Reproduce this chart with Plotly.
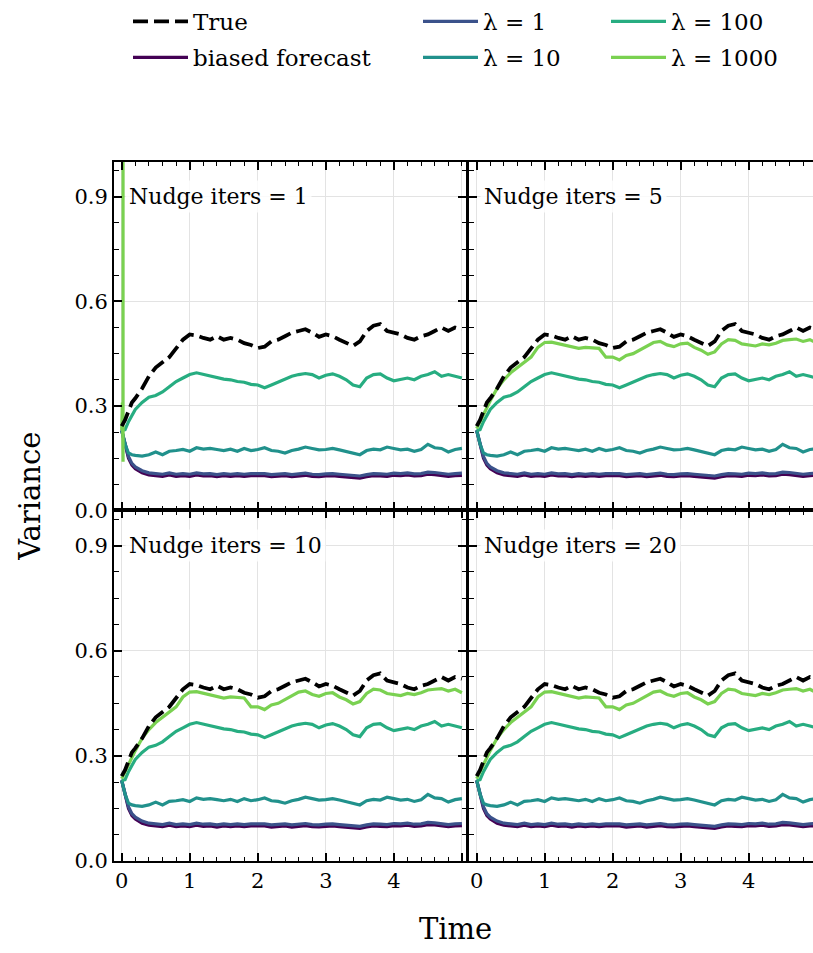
import plotly.graph_objects as go

# ---------------- data ----------------
time = [0, 0.05, 0.1, 0.15, 0.2, 0.3, 0.4, 0.5, 0.6, 0.7, 0.8, 0.9, 1.0,
        1.1, 1.2, 1.3, 1.4, 1.5, 1.6, 1.7, 1.8, 1.9, 2.0,
        2.1, 2.2, 2.3, 2.4, 2.5, 2.6, 2.7, 2.8, 2.9, 3.0,
        3.1, 3.2, 3.3, 3.4, 3.5, 3.6, 3.7, 3.8, 3.9, 4.0,
        4.1, 4.2, 4.3, 4.4, 4.5, 4.6, 4.7, 4.8, 4.9, 5.0]

true_var = [0.242, 0.26, 0.285, 0.31, 0.322, 0.35, 0.385, 0.41, 0.425, 0.44, 0.465, 0.49, 0.505,
            0.502, 0.495, 0.49, 0.5, 0.49, 0.495, 0.49, 0.48, 0.475, 0.466,
            0.47, 0.485, 0.49, 0.5, 0.51, 0.515, 0.52, 0.51, 0.498, 0.505,
            0.5, 0.49, 0.482, 0.472, 0.485, 0.515, 0.53, 0.535, 0.515, 0.51,
            0.505, 0.495, 0.49, 0.5, 0.505, 0.515, 0.525, 0.515, 0.525, 0.52]

biased = [0.23, 0.185, 0.15, 0.13, 0.12, 0.108, 0.102, 0.1, 0.098, 0.102, 0.098, 0.1, 0.098,
          0.102, 0.099, 0.1, 0.097, 0.1, 0.098, 0.1, 0.098, 0.1, 0.101,
          0.1, 0.097, 0.099, 0.1, 0.097, 0.099, 0.101, 0.098, 0.097, 0.099,
          0.1, 0.098, 0.096, 0.095, 0.093, 0.097, 0.1, 0.099, 0.098, 0.101,
          0.1, 0.102, 0.099, 0.1, 0.104, 0.103, 0.1, 0.098, 0.1, 0.101]

lam1 = [0.23, 0.19, 0.155, 0.135, 0.125, 0.114, 0.108, 0.106, 0.104, 0.108, 0.104, 0.106, 0.104,
        0.108, 0.105, 0.106, 0.103, 0.106, 0.104, 0.106, 0.104, 0.106, 0.107,
        0.106, 0.103, 0.105, 0.106, 0.103, 0.105, 0.107, 0.104, 0.103, 0.105,
        0.106, 0.104, 0.102, 0.101, 0.099, 0.103, 0.106, 0.105, 0.104, 0.107,
        0.106, 0.108, 0.105, 0.106, 0.11, 0.109, 0.106, 0.104, 0.106, 0.107]

lam10 = [0.23, 0.19, 0.165, 0.16, 0.158, 0.156, 0.16, 0.168, 0.16, 0.17, 0.172, 0.175, 0.17,
         0.18, 0.176, 0.178, 0.175, 0.172, 0.176, 0.17, 0.178, 0.172, 0.175,
         0.18, 0.172, 0.17, 0.165, 0.172, 0.176, 0.182, 0.178, 0.174, 0.175,
         0.178, 0.174, 0.17, 0.165, 0.16, 0.172, 0.176, 0.174, 0.182, 0.178,
         0.174, 0.176, 0.17, 0.175, 0.19, 0.18, 0.178, 0.168, 0.175, 0.178]

lam100 = [0.23, 0.232, 0.255, 0.275, 0.29, 0.31, 0.325, 0.33, 0.34, 0.355, 0.37, 0.38, 0.39,
          0.395, 0.39, 0.385, 0.38, 0.377, 0.375, 0.37, 0.368, 0.362, 0.36,
          0.352, 0.36, 0.368, 0.375, 0.385, 0.39, 0.393, 0.39, 0.38, 0.388,
          0.392, 0.385, 0.375, 0.36, 0.355, 0.38, 0.39, 0.392, 0.38, 0.372,
          0.375, 0.38, 0.375, 0.385, 0.39, 0.398, 0.385, 0.39, 0.385, 0.38]

lam1000 = [0.235, 0.255, 0.28, 0.295, 0.315, 0.35, 0.375, 0.395, 0.41, 0.425, 0.44, 0.468, 0.482,
           0.483, 0.478, 0.475, 0.47, 0.465, 0.468, 0.467, 0.465, 0.44, 0.44,
           0.432, 0.445, 0.45, 0.46, 0.47, 0.482, 0.485, 0.475, 0.47, 0.478,
           0.48, 0.468, 0.46, 0.448, 0.455, 0.478, 0.49, 0.488, 0.478, 0.475,
           0.472, 0.478, 0.475, 0.48, 0.488, 0.49, 0.492, 0.485, 0.49, 0.48]

# with a single nudge iteration the lambda=1000 run blows up right away
time_diverge = [0, 0.01, 0.02, 0.03]
lam1000_diverge = [0.23, 0.31, 0.14, 1000.0]

panel_titles = ["Nudge iters = 1", "Nudge iters = 5", "Nudge iters = 10", "Nudge iters = 20"]

colors = {"True": "black", "biased forecast": "#440154", "λ = 1": "#3b528b",
          "λ = 10": "#21918c", "λ = 100": "#27ad81", "λ = 1000": "#7ad151"}

x_ticks = [0, 1, 2, 3, 4, 5]
x_ticktext = ["0", "1", "2", "3", "4", ""]
y_ticks = [0.0, 0.3, 0.6, 0.9]
y_ticktext = ["0.0", "0.3", "0.6", "0.9"]

# ---------------- figure ----------------
W, H = 813, 953
FONT = "DejaVu Serif"

def px_x(p):
    return p / W

def px_y(p):
    return 1 - p / H

col_dom = [[px_x(114), px_x(466)], [px_x(469), 1.0]]
row_dom = [[px_y(517), px_y(164)], [px_y(872), px_y(517)]]
x_ranges = [[-0.113, 5.06], [-0.113, 4.946]]

fig = go.Figure()

def line_style(name):
    if name == "True":
        return dict(color="black", width=3.8, dash="15px,6px")
    return dict(color=colors[name], width=3.2)

for p in range(4):
    r, c = divmod(p, 2)
    ax = "" if p == 0 else str(p + 1)
    xa, ya = "x" + ax, "y" + ax
    data = {"True": (time, true_var), "biased forecast": (time, biased),
            "λ = 1": (time, lam1), "λ = 10": (time, lam10), "λ = 100": (time, lam100)}
    if p == 0:
        data["λ = 1000"] = (time_diverge, lam1000_diverge)
    else:
        data["λ = 1000"] = (time, lam1000)
    order = ["biased forecast", "λ = 1", "λ = 10", "λ = 100", "λ = 1000", "True"]
    for nm in order:
        tx, ty = data[nm]
        fig.add_trace(go.Scatter(x=tx, y=ty, mode="lines", line=line_style(nm),
                                 xaxis=xa, yaxis=ya, showlegend=False, hoverinfo="skip"))

    common = dict(showgrid=True, gridcolor="#e3e3e3", gridwidth=1, zeroline=False,
                  showline=True, linecolor="black", linewidth=2,
                  ticks="inside", ticklen=8, tickwidth=1.6, tickcolor="black",
                  tickfont=dict(family=FONT, size=21, color="black"))
    xaxis = dict(common, domain=col_dom[c], range=x_ranges[c], anchor=ya,
                 tickmode="array", tickvals=x_ticks, ticktext=x_ticktext,
                 mirror="allticks", showticklabels=(r == 1),
                 minor=dict(dtick=0.2, tick0=0, ticks="inside", ticklen=4.5,
                            tickwidth=1.4, tickcolor="black", showgrid=False))
    yaxis = dict(common, domain=row_dom[r], range=[0, 1.0], anchor=xa,
                 tickmode="array", tickvals=y_ticks, ticktext=y_ticktext,
                 mirror=("allticks" if c == 0 else False), showticklabels=(c == 0),
                 minor=dict(dtick=0.075, tick0=0, ticks="inside", ticklen=4.5,
                            tickwidth=1.4, tickcolor="black", showgrid=False))
    fig.update_layout({"xaxis" + ax: xaxis, "yaxis" + ax: yaxis})

    fig.add_annotation(x=0.05, y=0.9, xref=xa, yref=ya, text=panel_titles[p],
                       showarrow=False, xanchor="left", yanchor="middle",
                       font=dict(family=FONT, size=22, color="black"),
                       bgcolor="rgba(255,255,255,0.8)", borderpad=3)

# legend entries (three columns of two rows)
legend_cols = [["True", "biased forecast"], ["λ = 1", "λ = 10"], ["λ = 100", "λ = 1000"]]
legend_ids = ["legend", "legend2", "legend3"]
for li, names in zip(legend_ids, legend_cols):
    for nm in names:
        fig.add_trace(go.Scatter(x=[None], y=[None], mode="lines", name=nm,
                                 line=line_style(nm), legend=li, legendgroup=nm,
                                 showlegend=True))

leg_common = dict(orientation="v", yanchor="top", y=px_y(0), xanchor="left",
                  bgcolor="rgba(0,0,0,0)", font=dict(family=FONT, size=23, color="black"),
                  itemwidth=55, tracegroupgap=3)
fig.update_layout(
    legend=dict(leg_common, x=px_x(128)),
    legend2=dict(leg_common, x=px_x(418)),
    legend3=dict(leg_common, x=px_x(606)),
)

fig.add_annotation(x=px_x(456), y=px_y(941), xref="paper", yref="paper", text="Time",
                   showarrow=False, font=dict(family=FONT, size=29, color="black"),
                   xanchor="center", yanchor="middle")
fig.add_annotation(x=px_x(30), y=px_y(503), xref="paper", yref="paper", text="Variance",
                   showarrow=False, textangle=-90,
                   font=dict(family=FONT, size=29, color="black"),
                   xanchor="center", yanchor="middle")

fig.update_layout(width=W, height=H, margin=dict(l=0, r=0, t=0, b=0),
                  plot_bgcolor="white", paper_bgcolor="white",
                  font=dict(family=FONT, color="black"))

fig.write_html("out.html")
